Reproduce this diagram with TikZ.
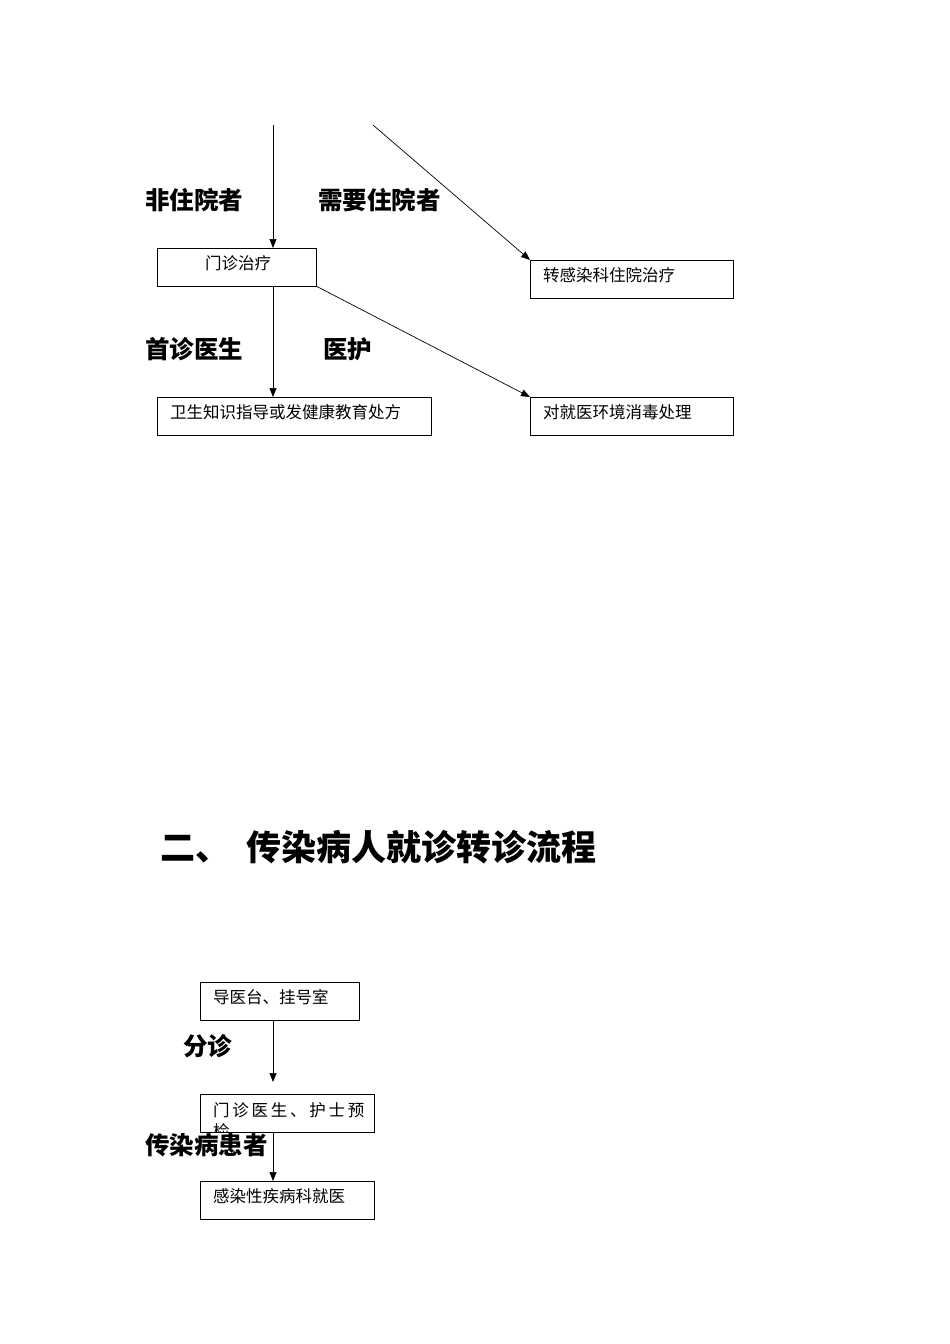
\documentclass[tikz,border=0pt]{standalone}
\usepackage{fontspec}
\newfontfamily\cjk{Noto Sans CJK SC}
\newfontfamily\cjkb{Noto Sans CJK SC Medium}
\usetikzlibrary{arrows.meta}
\begin{document}
\begin{tikzpicture}[x=1pt,y=-1pt,
  box/.style={draw,line width=0.9pt,inner sep=0pt},
  small/.style={font=\cjk\fontsize{16.5}{16.5}\selectfont,anchor=west,inner sep=0pt},
  big/.style={font=\cjk\bfseries\fontsize{24.5}{24.5}\selectfont,anchor=west,inner sep=0pt},
  arr/.style={line width=0.7pt,-{Triangle[length=9pt,width=7pt]}}]
\useasboundingbox (0,0) rectangle (950,1344);
% boxes
\draw[box] (157,248) rectangle (316,286);
\node[small] (t1) at (205,263) {门诊治疗};
\draw[box] (530,260) rectangle (733,298);
\node[small] (t2) at (543,275) {转感染科住院治疗};
\draw[box] (157,397) rectangle (431,435);
\node[small] (t3) at (170,412) {卫生知识指导或发健康教育处方};
\draw[box] (530,397) rectangle (733,435);
\node[small] (t4) at (543,412) {对就医环境消毒处理};
\coordinate (s1) at (273,125); \coordinate (s2) at (373,125);
\coordinate (a1) at (273,248); \coordinate (a2) at (530,260);
\coordinate (b0) at (273,286); \coordinate (b1) at (273,397);
\coordinate (c0) at (316,286); \coordinate (c1) at (530,397);
\draw[arr] (s1) -- (a1);
\draw[arr] (s2) -- (a2);
\draw[arr] (b0) -- (b1);
\draw[arr] (c0) -- (c1);
\node[big] (l1) at (145,200) {非住院者};
\node[big] (l2) at (318,200) {需要住院者};
\node[big] (l3) at (145,349) {首诊医生};
\node[big] (l4) at (323,349) {医护};
\node[font=\cjk\bfseries\fontsize{35}{35}\selectfont,anchor=west,inner sep=0pt] (title) at (160,847) {二、\hspace{16pt}传染病人就诊转诊流程};
% lower
\draw[box] (200,982) rectangle (359,1020);
\node[small] (u1) at (213,997) {导医台、挂号室};
\draw[box] (200,1094) rectangle (374,1132);
\begin{scope}
\clip (200,1094) rectangle (374,1132);
\node[small] (u2) at (213,1110) {门\,诊\,医\,生\,、\,护\,士\,预};
\node[small] (u2b) at (213,1131) {检};
\end{scope}
\draw[box] (200,1181) rectangle (374,1219);
\node[small] (u3) at (213,1196) {感染性疾病科就医};
\coordinate (d0) at (273,1020); \coordinate (d1) at (273,1082);
\coordinate (e0) at (273,1132); \coordinate (e1) at (273,1181);
\draw[arr] (d0) -- (d1);
\draw[arr] (e0) -- (e1);
\node[big] (l5) at (183,1046) {分诊};
\node[big] (l6) at (145,1145) {传染病患者};
\end{tikzpicture}
\end{document}
